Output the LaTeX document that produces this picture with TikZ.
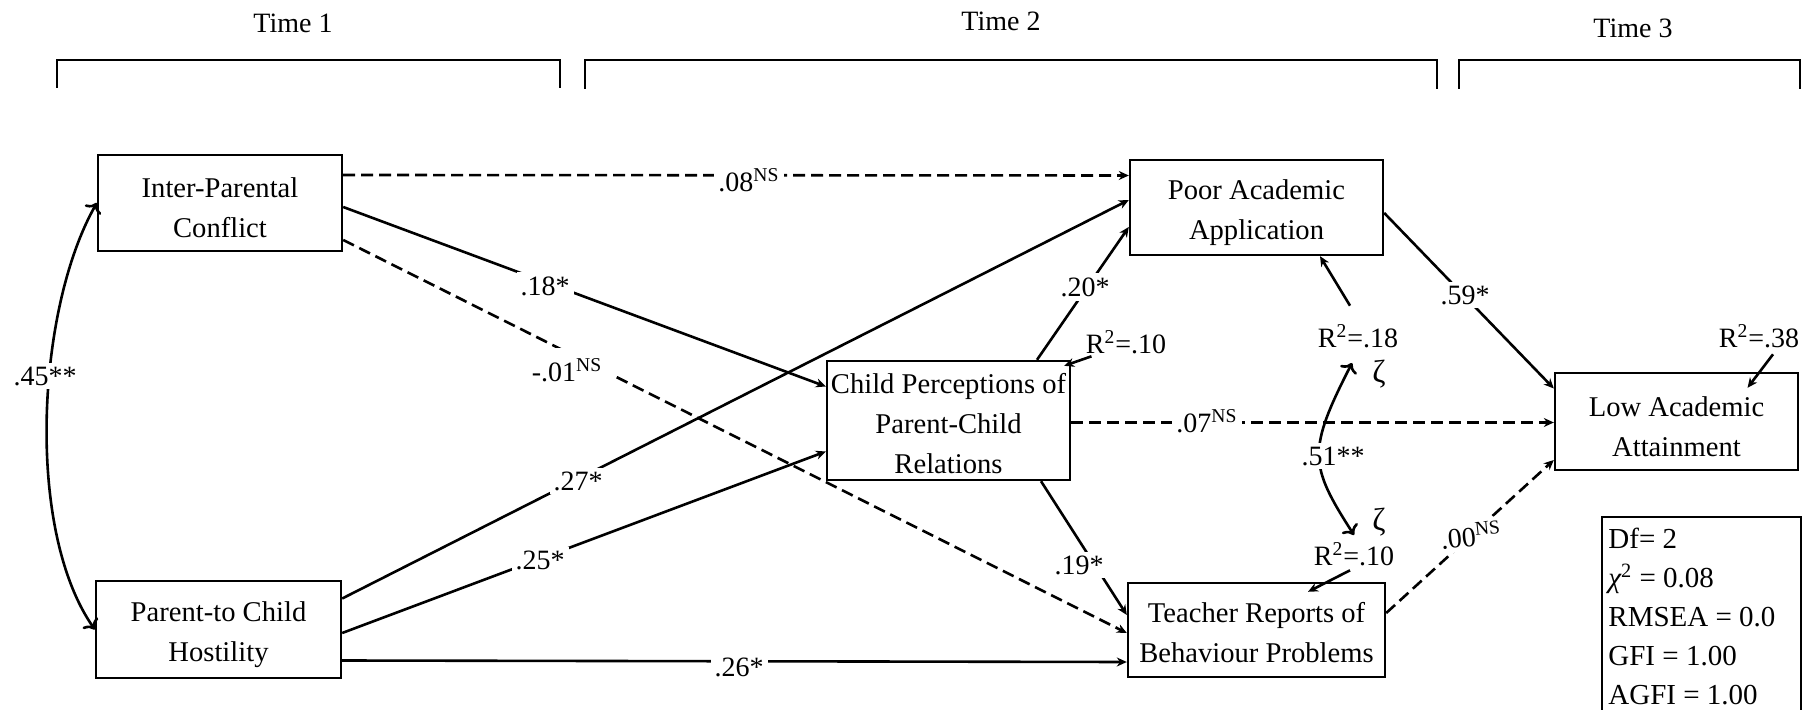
\documentclass[tikz,border=0pt]{standalone}
\usepackage{fontspec}
\setmainfont{Liberation Serif}
\usetikzlibrary{arrows.meta,calc}
\newcommand{\boxstrut}{\rule{0pt}{15pt}}
\begin{document}
\begin{tikzpicture}[x=0.5pt,y=-0.5pt,
  box/.style={draw, line width=1.2pt, align=center, inner sep=0pt, font=\fontsize{14.3}{20}\selectfont},
  lbl/.style={fill=white, inner sep=2pt, font=\fontsize{14}{16}\selectfont},
  rlbl/.style={inner sep=1pt, font=\fontsize{14}{16}\selectfont},
  zlbl/.style={inner sep=1pt, font=\fontsize{16}{16}\selectfont},
  tlbl/.style={font=\fontsize{14}{16}\selectfont},
  conn/.style={line width=1.3pt, -{Stealth[length=5pt,width=4.5pt]}},
  dsh/.style={dash pattern=on 6pt off 3pt},
  brk/.style={line width=1pt},
]
\useasboundingbox (0,0) rectangle (1818,710);

% time headers
\node[tlbl] (t1) at (293,23) {Time 1};
\node[tlbl] (t2) at (1001,21) {Time 2};
\node[tlbl] (t3) at (1633,28) {Time 3};
\draw[brk] (56.5,88) -- (56.5,60) -- (559.5,60) -- (559.5,88);
\draw[brk] (584.5,89) -- (584.5,60) -- (1436.5,60) -- (1436.5,89);
\draw[brk] (1459,89) -- (1459,60) -- (1800,60) -- (1800,89);

% boxes
\node[box, minimum width=122pt, minimum height=48pt] (ipc) at (220,203) {\boxstrut Inter-Parental\\Conflict};
\node[box, minimum width=122.5pt, minimum height=48.5pt] (pch) at (218.5,629.5) {\boxstrut Parent-to Child\\Hostility};
\node[box, minimum width=121.5pt, minimum height=59.5pt] (cppcr) at (948.5,420.5) {\rule{0pt}{13pt}Child Perceptions of\\Parent-Child\\Relations};
\node[box, minimum width=126.5pt, minimum height=47.5pt] (paa) at (1256.5,207.5) {\boxstrut Poor Academic\\Application};
\node[box, minimum width=128.5pt, minimum height=47pt] (trbp) at (1256.5,630) {\rule{0pt}{13pt}Teacher Reports of\\Behaviour Problems};
\node[box, minimum width=121.5pt, minimum height=48.5pt] (laa) at (1676.5,421.5) {\boxstrut Low Academic\\Attainment};

% R^2 and disturbance labels
\node[rlbl] (r1) at (1126,342) {R\textsuperscript{2}=.10};
\node[rlbl] (r2) at (1358,336) {R\textsuperscript{2}=.18};
\node[rlbl] (r3) at (1354,554) {R\textsuperscript{2}=.10};
\node[rlbl] (r4) at (1759,336) {R\textsuperscript{2}=.38};
\node[zlbl] (z1) at (1379,374) {ζ};
\node[zlbl] (z2) at (1379,522) {ζ};

% connectors
\draw[conn, dsh] ($(ipc.east)+(0,-28)$) -- ($(paa.west)+(0,-32)$);
\draw[conn] ($(ipc.east)+(0,4)$) -- ($(cppcr.west)+(0,-34)$);
\draw[conn, dsh] ($(ipc.east)+(0,37)$) -- ($(trbp.west)+(0,3)$);
\draw[conn] ($(pch.east)+(0,-31)$) -- ($(paa.west)+(0,-7.5)$);
\draw[conn] ($(pch.east)+(0,3.5)$) -- ($(cppcr.west)+(0,31)$);
\draw[conn] ($(pch.east)+(0,31)$) -- ($(trbp.west)+(0,32)$);
\draw[conn] ($(cppcr.north)+(88.5,0)$) -- ($(paa.west)+(0,19.5)$);
\draw[conn] ($(cppcr.south)+(92.5,0)$) -- ($(trbp.west)+(0,-15)$);
\draw[conn] ($(paa.east)+(0,5.5)$) -- ($(laa.west)+(0,-33)$);
\draw[conn, dsh] ($(cppcr.east)+(0,2)$) -- ($(laa.west)+(0,1)$);
\draw[conn, dsh] ($(trbp.east)+(0,-17)$) -- ($(laa.west)+(0,38.5)$);
\draw[conn, <->] (ipc.west) .. controls +(-60,105) and +(-70,-100) .. (pch.west);
\draw[conn, <->] ($(z1.center)+(-27,-11)$) .. controls +(-45,88) and +(-45,-70) .. ($(z2.center)+(-25,13)$);

% R^2 arrows
\draw[conn] ($(r1.south west)+(8,0)$) -- ($(cppcr.north east)+(-7,6)$);
\draw[conn] ($(r2.north)+(-8,-16)$) -- ($(paa.south)+(63.5,0)$);
\draw[conn] ($(r3.south)+(-4,2)$) -- ($(trbp.north)+(51.5,10)$);
\draw[conn] ($(r4.south)+(14,4)$) -- ($(laa.north)+(71,16)$);

% path coefficients
\node[lbl] (c08) at (749,180) {.08\textsuperscript{NS}};
\node[lbl] (c18) at (545,286) {.18*};
\node[lbl, inner sep=5pt] (c01) at (567,370) {-.01\textsuperscript{NS}};
\node[lbl] (c27) at (578,481) {.27*};
\node[lbl] (c25) at (540,560) {.25*};
\node[lbl] (c26) at (739,667) {.26*};
\node[lbl] (c20) at (1085,287) {.20*};
\node[lbl] (c19) at (1079,565) {.19*};
\node[lbl] (c59) at (1465,295) {.59*};
\node[lbl] (c07) at (1207,421) {.07\textsuperscript{NS}};
\node[lbl, rotate=6] (c00) at (1471,535) {.00\textsuperscript{NS}};
\node[lbl] (c45) at (45,376) {.45**};
\node[lbl] (c51) at (1333,456) {.51**};

% fit indices
\node[anchor=north west, align=left, inner sep=0pt, font=\fontsize{14.5}{19.4}\selectfont] (fitidx) at (1608,528)
  {Df= 2\\{\itshape χ}\textsuperscript{2} = 0.08\\RMSEA = 0.0\\GFI = 1.00\\AGFI = 1.00};
\draw[line width=1.2pt] (1602,716) -- (1602,517) -- (1801,517) -- (1801,716);
\end{tikzpicture}
\end{document}
